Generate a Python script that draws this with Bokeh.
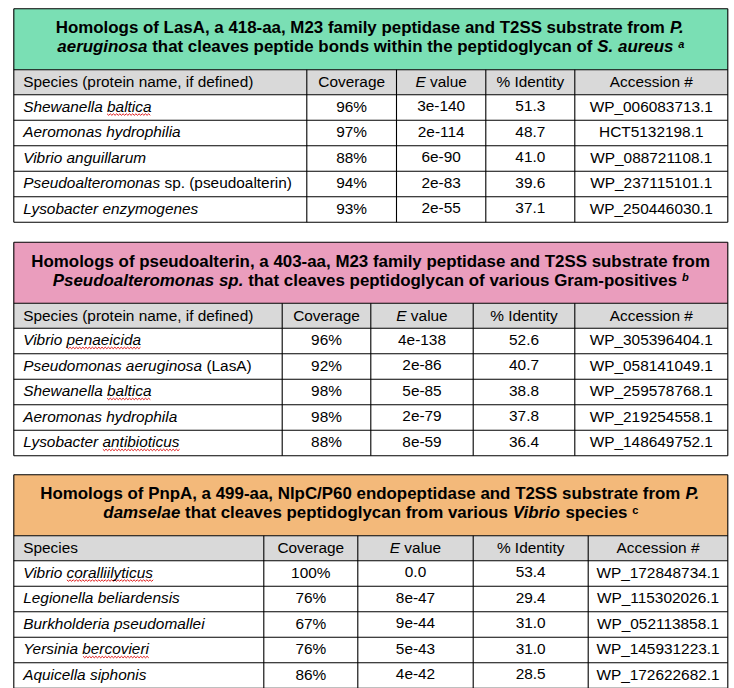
from bokeh.plotting import figure
from bokeh.models import Range1d, ColumnDataSource
from bokeh.core.properties import value
from bokeh.embed import file_html
from bokeh.resources import INLINE

# ------------------------------------------------------------------ data
t1_species = ["Shewanella baltica", "Aeromonas hydrophilia", "Vibrio anguillarum",
              "Pseudoalteromonas sp. (pseudoalterin)", "Lysobacter enzymogenes"]
t1_coverage = [96, 97, 88, 94, 93]
t1_evalue = ["3e-140", "2e-114", "6e-90", "2e-83", "2e-55"]
t1_identity = [51.3, 48.7, 41.0, 39.6, 37.1]
t1_accession = ["WP_006083713.1", "HCT5132198.1", "WP_088721108.1",
                "WP_237115101.1", "WP_250446030.1"]

t2_species = ["Vibrio penaeicida", "Pseudomonas aeruginosa (LasA)", "Shewanella baltica",
              "Aeromonas hydrophila", "Lysobacter antibioticus"]
t2_coverage = [96, 92, 98, 98, 88]
t2_evalue = ["4e-138", "2e-86", "5e-85", "2e-79", "8e-59"]
t2_identity = [52.6, 40.7, 38.8, 37.8, 36.4]
t2_accession = ["WP_305396404.1", "WP_058141049.1", "WP_259578768.1",
                "WP_219254558.1", "WP_148649752.1"]

t3_species = ["Vibrio coralliilyticus", "Legionella beliardensis", "Burkholderia pseudomallei",
              "Yersinia bercovieri", "Aquicella siphonis"]
t3_coverage = [100, 76, 67, 76, 86]
t3_evalue = ["0.0", "8e-47", "9e-44", "5e-43", "4e-42"]
t3_identity = [53.4, 29.4, 31.0, 31.0, 28.5]
t3_accession = ["WP_172848734.1", "WP_115302026.1", "WP_052113858.1",
                "WP_145931223.1", "WP_172622682.1"]

header_long = ["Species (protein name, if defined)", "Coverage", "E value", "% Identity", "Accession #"]
header_short = ["Species", "Coverage", "E value", "% Identity", "Accession #"]

# title runs: (text, style)  b = bold, bi = bold italic, sup = superscript
t1_title = [
    [("Homologs of LasA, a 418-aa, M23 family peptidase and T2SS substrate from ", "b"), ("P.", "bi")],
    [("aeruginosa", "bi"), (" that cleaves peptide bonds within the peptidoglycan of ", "b"),
     ("S. aureus", "bi"), (" ", "b"), ("a", "supi")],
]
t2_title = [
    [("Homologs of pseudoalterin, a 403-aa, M23 family peptidase and T2SS substrate from", "b")],
    [("Pseudoalteromonas sp.", "bi"), (" that cleaves peptidoglycan of various Gram-positives ", "b"),
     ("b", "supi")],
]
t3_title = [
    [("Homologs of PnpA, a 499-aa, NlpC/P60 endopeptidase and T2SS substrate from ", "b"), ("P.", "bi")],
    [("damselae", "bi"), (" that cleaves peptidoglycan from various ", "b"), ("Vibrio", "bi"),
     (" species ", "b"), ("c", "sup")],
]

non_italic_suffixes = [" sp. (pseudoalterin)", " (LasA)"]
flagged_words = ["baltica", "penaeicida", "antibioticus", "coralliilyticus", "bercovieri"]

# ------------------------------------------------------------------ layout / style
FONT = "Liberation Sans"
BODY = 15.4
TITLE = 16.9
SUP = 11.0
MID = 0.3465          # distance (em) from baseline up to the middle of the ascent/descent box
LEFT, RIGHT = 13.3, 727.3
TOPS = [8.3, 241.7, 474.3]
TITLE_H, HEAD_H, ROW_H = 61.0, 25.0, 25.5
COLS = [[306.3, 396.0, 485.3, 574.3],
        [281.7, 370.3, 472.7, 574.3],
        [263.3, 357.3, 472.7, 587.7]]
FILLS = ["#7ADFB4", "#EA9DBD", "#F3B97A"]
HEAD_FILL = "#D9D9D9"

_lo = "abcdefghijklmnopqrstuvwxyz"
_up = "ABCDEFGHIJKLMNOPQRSTUVWXYZ"
REG = dict(zip(_lo, [556, 556, 500, 556, 556, 278, 556, 556, 222, 222, 500, 222, 833, 556, 556, 556, 556,
                     333, 500, 278, 556, 500, 722, 500, 500, 500]))
REG.update(zip(_up, [667, 667, 722, 722, 667, 611, 778, 722, 278, 500, 667, 556, 833, 722, 778, 667, 778,
                     722, 667, 611, 722, 667, 944, 667, 667, 611]))
REG.update({" ": 278, ",": 278, ".": 278, "-": 333, "_": 556, "%": 889, "#": 556, "(": 333, ")": 333,
            "/": 278, ":": 278})
BLD = dict(zip(_lo, [556, 611, 556, 611, 556, 333, 611, 611, 278, 278, 556, 278, 889, 611, 611, 611, 611,
                     389, 556, 333, 611, 556, 778, 556, 556, 500]))
BLD.update(zip(_up, [722, 722, 722, 722, 667, 611, 778, 722, 278, 556, 722, 611, 833, 722, 778, 667, 778,
                     722, 667, 611, 722, 667, 944, 667, 667, 611]))
BLD.update({" ": 278, ",": 278, ".": 278, "-": 333, "_": 556, "%": 889, "#": 556, "(": 333, ")": 333,
            "/": 278, ":": 333})
for d in "0123456789":
    REG[d] = 556
    BLD[d] = 556


def tw(s, bold, size):
    table = BLD if bold else REG
    return sum(table.get(c, 556) for c in s) * size / 1000.0


texts = []  # x, y(middle), text, style, size, align


def add(x, base, s, style, size, align="left"):
    """Place a run whose baseline is at `base`; blanks at the ends are kept in the advance."""
    bold = "bold" in style
    stripped = s.strip()
    if not stripped:
        return
    if align == "left":
        x = x + tw(s[: len(s) - len(s.lstrip())], bold, size)
    texts.append((x, base - MID * size, stripped, style, size, align))


squig_xs, squig_ys = [], []


def squiggle(x0, x1, y):
    xs, ys = [], []
    x = x0
    k = 0
    while x <= x1:
        xs.append(x)
        ys.append(y + (1.5 if k % 2 else 0.0))
        x += 1.6
        k += 1
    squig_xs.append(xs)
    squig_ys.append(ys)


tables = [
    (t1_title, header_long, t1_species, t1_coverage, t1_evalue, t1_identity, t1_accession),
    (t2_title, header_long, t2_species, t2_coverage, t2_evalue, t2_identity, t2_accession),
    (t3_title, header_short, t3_species, t3_coverage, t3_evalue, t3_identity, t3_accession),
]

quads = dict(left=[], right=[], top=[], bottom=[], color=[])
segs = dict(x0=[], y0=[], x1=[], y1=[])

for ti, (title, header, species, cov, ev, ident, acc) in enumerate(tables):
    top = TOPS[ti]
    t_bot = top + TITLE_H
    h_bot = t_bot + HEAD_H
    n = len(species)
    bottom = h_bot + n * ROW_H
    bounds = [LEFT] + COLS[ti] + [RIGHT]

    # fills
    for (a, b, c) in [(top, t_bot, FILLS[ti]), (t_bot, h_bot, HEAD_FILL), (h_bot, bottom, "#FFFFFF")]:
        quads["left"].append(LEFT); quads["right"].append(RIGHT)
        quads["top"].append(a); quads["bottom"].append(b); quads["color"].append(c)

    # borders
    hlines = [top, t_bot, h_bot] + [h_bot + (k + 1) * ROW_H for k in range(n)]
    for y in hlines:
        segs["x0"].append(LEFT); segs["x1"].append(RIGHT); segs["y0"].append(y); segs["y1"].append(y)
    for x in (LEFT, RIGHT):
        segs["x0"].append(x); segs["x1"].append(x); segs["y0"].append(top); segs["y1"].append(bottom)
    for x in COLS[ti]:
        segs["x0"].append(x); segs["x1"].append(x); segs["y0"].append(t_bot); segs["y1"].append(bottom)

    # title lines
    cx = (LEFT + RIGHT) / 2
    for li, runs in enumerate(title):
        base = top + (24.7 if li == 0 else 43.7)
        widths = []
        for s, st in runs:
            if st.startswith("sup"):
                widths.append(tw(s, True, SUP))
            else:
                widths.append(tw(s, True, TITLE))
        x = cx - sum(widths) / 2
        for (s, st), w in zip(runs, widths):
            if st == "b":
                add(x, base, s, "bold", TITLE)
            elif st == "bi":
                add(x, base, s, "bold italic", TITLE)
            elif st == "supi":
                add(x, base - 5.0, s, "bold italic", SUP)
            else:
                add(x, base - 5.0, s, "bold", SUP)
            x += w

    # header
    hb = t_bot + 17.3
    for ci, h in enumerate(header):
        c0, c1 = bounds[ci], bounds[ci + 1]
        if ci == 0:
            add(c0 + 9.4, hb, h, "normal", BODY)
        elif h.startswith("E "):
            w_e = tw("E", False, BODY)
            w_r = tw(h[1:], False, BODY)
            x = (c0 + c1) / 2 - (w_e + w_r) / 2
            add(x, hb, "E", "italic", BODY)
            add(x + w_e, hb, h[1:], "normal", BODY)
        else:
            add((c0 + c1) / 2, hb, h, "normal", BODY, "center")

    # rows
    for r in range(n):
        rb = h_bot + r * ROW_H + 17.0
        x0 = bounds[0] + 9.4
        name = species[r]
        ital, rest = name, ""
        for suf in non_italic_suffixes:
            if name.endswith(suf):
                ital, rest = name[: -len(suf)], suf
        add(x0, rb, ital, "italic", BODY)
        if rest:
            add(x0 + tw(ital, False, BODY), rb, rest, "normal", BODY)
        for wd in flagged_words:
            pos = name.find(wd)
            if pos >= 0:
                xa = x0 + tw(name[:pos], False, BODY)
                squiggle(xa, xa + tw(wd, False, BODY), rb + 2.0)
        cells = [f"{cov[r]}%", ev[r], f"{ident[r]:.1f}", acc[r]]
        for ci, s in enumerate(cells, start=1):
            c0, c1 = bounds[ci], bounds[ci + 1]
            add((c0 + c1) / 2, rb, s, "normal", BODY, "center")

# ------------------------------------------------------------------ figure
p = figure(width=734, height=688, x_range=Range1d(0, 734), y_range=Range1d(688, 0),
           output_backend="svg", toolbar_location=None, x_axis_type=None, y_axis_type=None,
           min_border=0)
p.outline_line_color = None
p.background_fill_color = "white"
p.border_fill_color = "white"
p.grid.visible = False

p.quad(left="left", right="right", top="top", bottom="bottom", fill_color="color",
       line_color=None, source=ColumnDataSource(quads))
p.segment(x0="x0", y0="y0", x1="x1", y1="y1", line_color="black", line_width=1.1,
          source=ColumnDataSource(segs))
p.multi_line(xs=squig_xs, ys=squig_ys, line_color="#E01818", line_width=1.0)

groups = {}
for (x, y, s, st, size, al) in texts:
    groups.setdefault((st, size, al), {"x": [], "y": [], "text": []})
    g = groups[(st, size, al)]
    g["x"].append(x); g["y"].append(y); g["text"].append(s)

for (st, size, al), g in groups.items():
    p.text(x="x", y="y", text="text", source=ColumnDataSource(g),
           text_font=value(FONT), text_font_size=value(f"{size}px"), text_font_style=st,
           text_align=al, text_baseline="middle", text_color="black")

open("out.html", "w").write(file_html(p, INLINE))
